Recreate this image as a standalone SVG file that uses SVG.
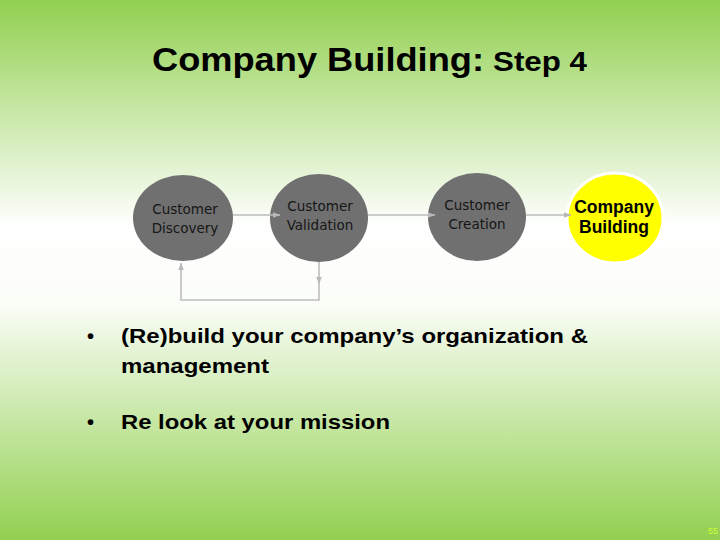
<svg xmlns="http://www.w3.org/2000/svg" width="720" height="540" viewBox="0 0 720 540">
  <defs>
    <linearGradient id="bg" x1="0" y1="0" x2="0" y2="1">
      <stop offset="0" stop-color="#92d050"/>
      <stop offset="0.42" stop-color="#ffffff"/>
      <stop offset="0.56" stop-color="#fbfdf8"/>
      <stop offset="1" stop-color="#92d050"/>
    </linearGradient>
    <marker id="arr" viewBox="0 0 10 10" refX="10" refY="5" markerWidth="7" markerHeight="7" orient="auto" markerUnits="userSpaceOnUse">
      <path d="M0,1 L10,5 L0,9 z" fill="#b8b8b8"/>
    </marker>
    <style>
      .circ { fill: #707070; }
      .ctext { font-family: "DejaVu Sans", Verdana, sans-serif; font-size: 13.5px; fill: #161616; text-anchor: middle; }
      .btext { font-family: "Liberation Sans", Arial, sans-serif; font-weight: bold; fill: #000; }
      .conn { fill: none; stroke: #bdbdbd; stroke-width: 1.6; }
    </style>
  </defs>
  <rect width="720" height="540" fill="url(#bg)"/>

  <g id="title">
    <text class="btext" x="152" y="71" font-size="34" textLength="332" lengthAdjust="spacingAndGlyphs">Company Building:</text>
    <text class="btext" x="493" y="71" font-size="28" textLength="94" lengthAdjust="spacingAndGlyphs">Step 4</text>
  </g>

  <g id="customer-discovery">
    <ellipse class="circ" cx="183" cy="218" rx="50" ry="43"/>
    <text class="ctext" x="185" y="214">Customer</text>
    <text class="ctext" x="185" y="233">Discovery</text>
  </g>

  <g id="customer-validation">
    <ellipse class="circ" cx="319" cy="218" rx="49" ry="44"/>
    <text class="ctext" x="320" y="211">Customer</text>
    <text class="ctext" x="320" y="230">Validation</text>
  </g>

  <g id="customer-creation">
    <ellipse class="circ" cx="477" cy="217" rx="49" ry="44"/>
    <text class="ctext" x="477" y="210">Customer</text>
    <text class="ctext" x="477" y="229">Creation</text>
  </g>

  <g id="company-building">
    <ellipse cx="615" cy="218" rx="48" ry="45" fill="#ffff00" stroke="#ffffff" stroke-width="3"/>
    <text class="btext" x="614" y="213" font-size="17.5" text-anchor="middle">Company</text>
    <text class="btext" x="614" y="233" font-size="17.5" text-anchor="middle">Building</text>
  </g>

  <g id="connectors">
    <line class="conn" x1="233" y1="215" x2="280" y2="215" marker-end="url(#arr)"/>
    <line class="conn" x1="368" y1="215" x2="435" y2="215" marker-end="url(#arr)"/>
    <line class="conn" x1="526" y1="215" x2="571" y2="215" marker-end="url(#arr)"/>
    <line class="conn" x1="319" y1="262" x2="319" y2="284" marker-end="url(#arr)"/>
    <polyline class="conn" points="319,283 319,300 181,300 181,263" marker-end="url(#arr)"/>
  </g>

  <g id="bullets">
    <text class="btext" x="87" y="343" font-size="20">•</text>
    <text class="btext" x="121" y="343" font-size="21" textLength="467" lengthAdjust="spacingAndGlyphs">(Re)build your company’s organization &amp;</text>
    <text class="btext" x="121" y="373" font-size="21" textLength="148" lengthAdjust="spacingAndGlyphs">management</text>
    <text class="btext" x="87" y="429" font-size="20">•</text>
    <text class="btext" x="121" y="429" font-size="21" textLength="269" lengthAdjust="spacingAndGlyphs">Re look at your mission</text>
  </g>

  <text x="718" y="534" font-family="Liberation Sans, Arial, sans-serif" font-size="9" fill="#ccff33" text-anchor="end">55</text>
</svg>
